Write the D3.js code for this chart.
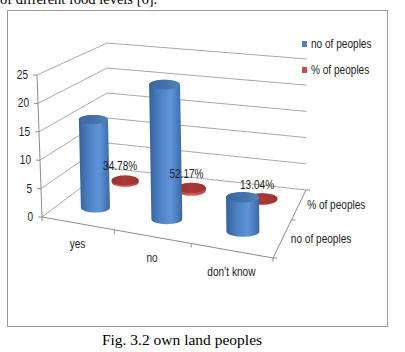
<!DOCTYPE html>
<html>
<head>
<meta charset="utf-8">
<script src="https://cdn.jsdelivr.net/npm/d3@7"></script>
<style>
body { margin: 0; background: #fff; }
svg { display: block; }
.lbl { font-family: "Liberation Sans", Arial, sans-serif; font-size: 12px; fill: #222; }
.serif { font-family: "Liberation Serif", "Times New Roman", serif; fill: #000; }
</style>
</head>
<body>
<svg width="405" height="352"></svg>
<script>
var categories = ["yes", "no", "don\u2019t know"];
var seriesNames = ["no of peoples", "% of peoples"];
var noOfPeoples = [16, 24, 6];
var pctOfPeoples = [0.3478, 0.5217, 0.1304];
var yTicks = [0, 5, 10, 15, 20, 25];

var svg = d3.select("svg");

// box corners of the 3d plot: front-left, front-right, back-right, back-left
var floorQuad = [[42, 217], [273, 258], [306, 190], [107, 168]];
var topQuad = [[37, 75], [271, 109], [307, 59], [107, 43]];
var kU = -0.09, kV = 0.27;   // perspective squeeze along the two floor directions

var persp = function(t, k) { return t * (1 + k) / (1 + k * t); };
var mix = function(p, q, t) { return [p[0] + (q[0] - p[0]) * t, p[1] + (q[1] - p[1]) * t]; };
var quadAt = function(q, u, v) {
    return mix(mix(q[0], q[1], u), mix(q[3], q[2], u), v);
};

var x = d3.scaleBand().domain(categories).range([0, 1]);
var z = d3.scaleBand().domain(seriesNames).range([0, 1]);
var y = d3.scaleLinear().domain([0, 25]).range([0, 1]);

var P = function(u, v, val) {
    var uu = persp(u, kU), vv = persp(v, kV);
    return mix(quadAt(floorQuad, uu, vv), quadAt(topQuad, uu, vv), y(val));
};

var cu = function(c) { return x(c) + x.bandwidth() / 2; };
var cv = function(s) { return z(s) + z.bandwidth() / 2; };

// narrow text, like the Calibri of the original
var label = function(px, py, txt, anchor) {
    return svg.append("text").attr("class", "lbl")
        .attr("transform", "translate(" + px + "," + py + ") scale(0.84,1)")
        .attr("text-anchor", anchor || "start").text(txt);
};

// outer frame
svg.append("rect").attr("x", 7.5).attr("y", 10.5).attr("width", 380).attr("height", 316)
    .style("fill", "none").style("stroke", "#9a9a9a").style("stroke-width", 1);

// text above and caption below
svg.append("text").attr("class", "serif").style("font-size", "14.5px")
    .attr("x", 0).attr("y", 4).text("of different food levels [6].");
svg.append("text").attr("class", "serif").style("font-size", "15.5px")
    .attr("x", 182).attr("y", 345).attr("text-anchor", "middle")
    .text("Fig. 3.2 own land peoples");

var line = d3.line();

// gridlines on side wall and back wall
yTicks.forEach(function(t) {
    svg.append("path")
        .attr("d", line([P(0, 0, t), P(0, 1, t), P(1, 1, t)]))
        .style("fill", "none").style("stroke", "#a8a8a8").style("stroke-width", 1);
});

// value axis
svg.append("path").attr("d", line([P(0, 0, 0), P(0, 0, 25)]))
    .style("fill", "none").style("stroke", "#8c8c8c");
yTicks.forEach(function(t) {
    var p = P(0, 0, t);
    svg.append("path").attr("d", line([[p[0] - 4, p[1]], p]))
        .style("fill", "none").style("stroke", "#8c8c8c");
    label(p[0] - 9, p[1] + 4, t, "end");
});

// category axis (front edge of floor)
svg.append("path").attr("d", line([P(0, 0, 0), P(1, 0, 0)]))
    .style("fill", "none").style("stroke", "#8c8c8c");
[0, 1, 2, 3].forEach(function(i) {
    var p = P(i / categories.length, 0, 0);
    svg.append("path").attr("d", line([p, [p[0], p[1] + 4]]))
        .style("fill", "none").style("stroke", "#8c8c8c");
});
categories.forEach(function(c) {
    var p = P(cu(c), 0, 0);
    label(p[0], p[1] + 25, c, "middle");
});

// depth axis (right edge of floor)
svg.append("path").attr("d", line([P(1, 0, 0), P(1, 1, 0)]))
    .style("fill", "none").style("stroke", "#8c8c8c");
[0, 1, 2].forEach(function(i) {
    var p = P(1, i / seriesNames.length, 0);
    svg.append("path").attr("d", line([p, [p[0] + 4, p[1]]]))
        .style("fill", "none").style("stroke", "#8c8c8c");
});
seriesNames.forEach(function(s) {
    var p = P(1, cv(s), 0);
    label(p[0] + 8, p[1] + 5, s);
});

// gradients for cylinders
var defs = svg.append("defs");
var grad = function(id, stops) {
    var g = defs.append("linearGradient").attr("id", id)
        .attr("x1", "0%").attr("x2", "100%").attr("y1", "0%").attr("y2", "0%");
    stops.forEach(function(s) {
        g.append("stop").attr("offset", s[0]).attr("stop-color", s[1]);
    });
};
grad("blueBody", [["0%", "#34619b"], ["35%", "#4f83c7"], ["65%", "#5f94da"], ["100%", "#3b68a4"]]);
grad("blueTop", [["0%", "#3d679f"], ["60%", "#4673ad"], ["100%", "#5583c0"]]);
grad("redBody", [["0%", "#b44541"], ["50%", "#d0635e"], ["100%", "#b44541"]]);
grad("redTop", [["0%", "#9a302d"], ["50%", "#a83a37"], ["100%", "#9e332f"]]);

var hw = 0.07;

var cylinder = function(u, v, val, body, top, flat) {
    var b = P(u, v, 0), t = P(u, v, val);
    var l = P(u - hw, v, 0), r = P(u + hw, v, 0);
    var rx = (r[0] - l[0]) / 2;
    var ry = rx * flat;
    var d = "M" + (b[0] - rx) + "," + b[1] +
        " A" + rx + "," + ry + " 0 0 0 " + (b[0] + rx) + "," + b[1] +
        " L" + (t[0] + rx) + "," + t[1] +
        " A" + rx + "," + ry + " 0 0 0 " + (t[0] - rx) + "," + t[1] + " Z";
    svg.append("path").attr("d", d).style("fill", "url(#" + body + ")");
    svg.append("ellipse").attr("cx", t[0]).attr("cy", t[1]).attr("rx", rx).attr("ry", ry)
        .style("fill", "url(#" + top + ")");
    return t;
};

// back row first: % of peoples
var pctTops = pctOfPeoples.map(function(val, i) {
    return cylinder(cu(categories[i]), cv(seriesNames[1]), val, "redBody", "redTop", 0.36);
});
noOfPeoples.forEach(function(val, i) {
    cylinder(cu(categories[i]), cv(seriesNames[0]), val, "blueBody", "blueTop", 0.32);
});

var fmt = d3.format(".2%");
pctOfPeoples.forEach(function(val, i) {
    var t = pctTops[i];
    label(t[0] - 5, t[1] - 10, fmt(val), "middle");
});

// legend
var legendColors = ["#4f81bd", "#c0504d"];
seriesNames.forEach(function(s, i) {
    svg.append("rect").attr("x", 302).attr("y", 41 + i * 26).attr("width", 5).attr("height", 6)
        .style("fill", legendColors[i]);
    label(311, 48 + i * 26, s);
});
</script>
</body>
</html>
